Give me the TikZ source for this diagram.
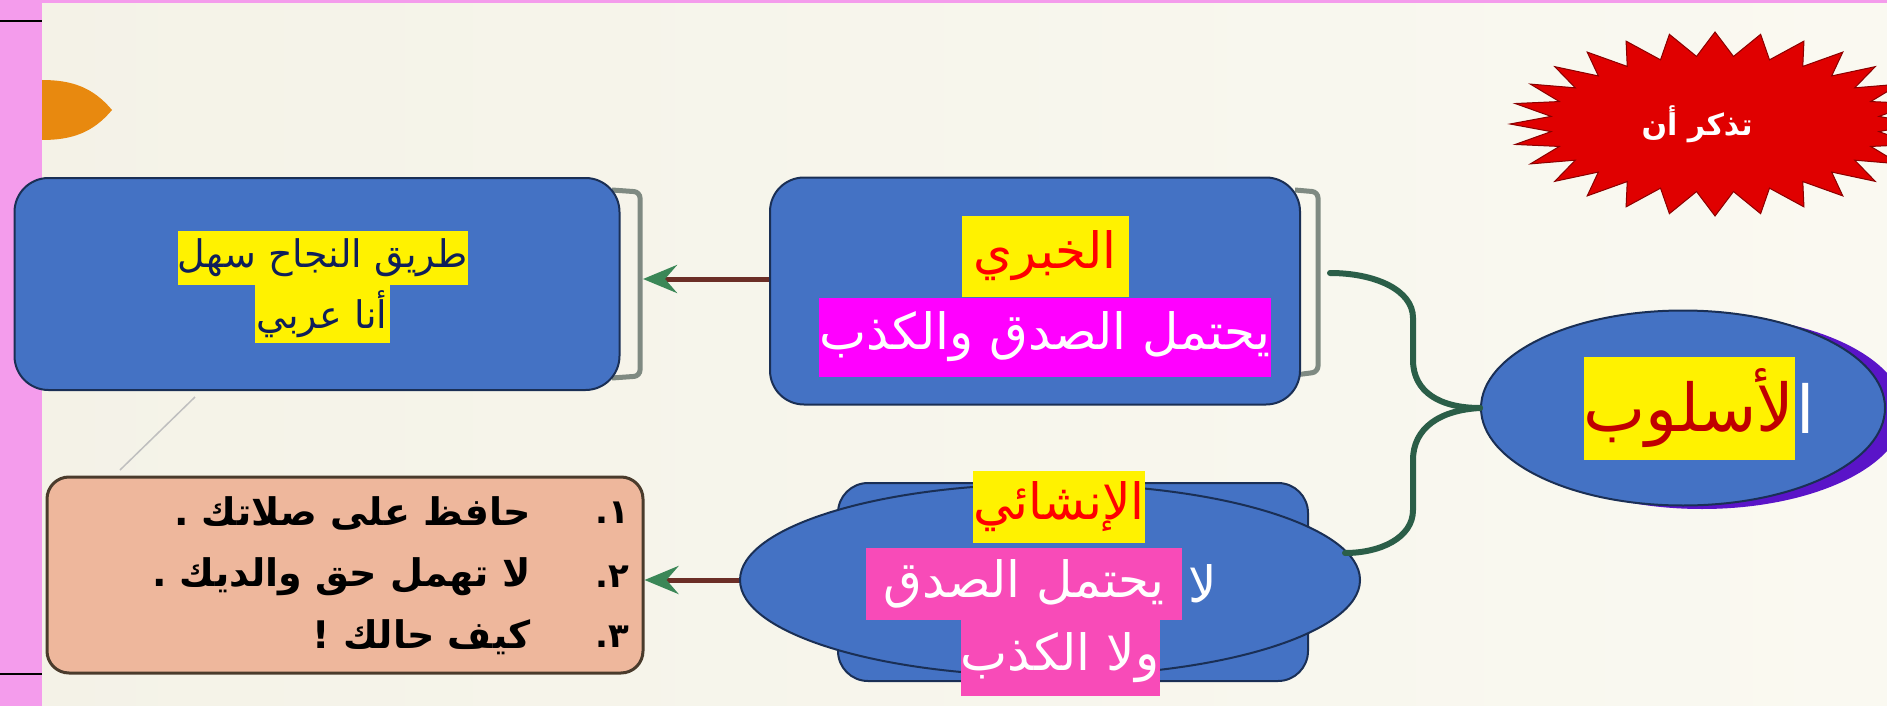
\documentclass[tikz,border=0pt]{standalone}
\usepackage{fontspec}
\usepackage{tikz}
\usetikzlibrary{shapes.geometric,arrows.meta}
\newfontfamily\arabicfont[Script=Arabic]{DejaVu Sans}
\TeXXeTstate=1
\newcommand{\artxt}[1]{\arabicfont\beginR #1\endR}
\definecolor{boxblue}{HTML}{4472C4}
\definecolor{boxline}{HTML}{1A2F55}
\definecolor{navytxt}{HTML}{0F1F5A}
\definecolor{magentahl}{HTML}{FF00FF}
\definecolor{pinkhl}{HTML}{F84BB8}
\definecolor{uslubred}{HTML}{C00000}
\definecolor{salmonfill}{HTML}{EEB79C}
\definecolor{salmonline}{HTML}{4A3B2C}
\definecolor{stripe}{HTML}{F49CEC}
\definecolor{burstred}{HTML}{E00000}
\definecolor{burstdark}{HTML}{8A0000}
\definecolor{blobor}{HTML}{E8890F}
\definecolor{bgleft}{HTML}{F4F2E7}
\definecolor{bgright}{HTML}{FAF9F1}
\definecolor{shadowpurple}{HTML}{5A14C8}
\definecolor{arrowgreen}{HTML}{3B8757}
\definecolor{connbrown}{HTML}{6B2E26}
\definecolor{bracegreen}{HTML}{2B5E48}
\definecolor{bracketgrey}{HTML}{7F8A82}

\begin{document}
\begin{tikzpicture}[x=1pt, y=-1pt]
    \tikzstyle{every node}=[inner sep=0pt]
    \tikzstyle{bluebox}=[draw=boxline, fill=boxblue, line width=2pt, rounded corners=34pt]
    \tikzstyle{blueoval}=[ellipse, draw=boxline, fill=boxblue, line width=2pt]
    \tikzstyle{hl}=[inner xsep=0pt, inner ysep=0pt]
    \tikzstyle{conn}=[draw=connbrown, line width=5pt, -{Stealth[length=34pt, width=28pt, inset=12pt, color=arrowgreen]}]
    \tikzstyle{brace}=[draw=bracegreen, line width=6pt, line cap=round]
    \tikzstyle{bracket}=[draw=bracketgrey, line width=5pt, rounded corners=6pt]
    \useasboundingbox (0, 0) rectangle (1887, 706);
    \fill[left color=bgleft, right color=bgright] (0, 0) rectangle (1887, 706);
    \fill[stripe] (0, 0) rectangle (42, 706);
    \fill[stripe] (0, 0) rectangle (1887, 3);
    \draw[line width=2pt] (0, 21) -- (42, 21);
    \draw[line width=2pt] (0, 674) -- (42, 674);
    \fill[blobor] (42, 80) to[out=0, in=130] (112, 110) to[out=230, in=0] (42, 140) -- cycle;
    \begin{scope}[shift={(1715, 124)}]
    \fill[burstred, draw=burstdark, line width=1pt] (0:205 and 92) \foreach \i in {1,...,28} {-- ({\i*360/28-360/56}:165 and 68) -- ({\i*360/28}:205 and 92)} -- cycle;
    \end{scope}
    \draw (1697, 124) node[text=white, font=\fontsize{30}{34}\selectfont\bfseries] (tip) {\artxt{تذكر أن}};
    \draw[black!25, line width=1.5pt] (120, 470) -- (195, 397);
    \draw[bracket] (612, 190) -- (640, 192) -- (640, 376) -- (612, 378);
    \draw[bracket] (1295, 190) -- (1318, 192) -- (1318, 372) -- (1295, 375);

    \draw (317, 284) node[bluebox, minimum width=605, minimum height=212] (tarik) {};
    \draw (1035, 291) node[bluebox, minimum width=530, minimum height=227] (khabari) {};
    \draw (1073, 582) node[bluebox, rounded corners=30pt, minimum width=470, minimum height=198] (inshabox) {};
    \draw (1050, 580) node[blueoval, minimum width=620, minimum height=192] (insha) {};
    \draw (345, 575) node[draw=salmonline, fill=salmonfill, line width=3pt, rounded corners=22pt, minimum width=596, minimum height=196] (amthila) {};
    \fill[shadowpurple] (1702, 412) ellipse (202 and 97);
    \draw (1683, 408) node[blueoval, minimum width=404, minimum height=195] (uslub) {};

    \coordinate (khabari-end) at (1330, 273);
    \coordinate (insha-end) at (1345, 553);
    \coordinate (tarik-br) at (643, 279);
    \draw[brace] (uslub.west) .. controls (1440, 408) and (1413, 392) .. (1413, 360) -- (1413, 318) .. controls (1413, 290) and (1375, 273) .. (khabari-end);
    \draw[brace] (uslub.west) .. controls (1440, 410) and (1413, 428) .. (1413, 460) -- (1413, 510) .. controls (1413, 538) and (1380, 553) .. (insha-end);
    \draw[conn] ([yshift=12pt]khabari.west) -- (tarik-br);
    \draw[conn] (insha.west) -- (insha.west -| amthila.east);

    \draw (323, 258) node[hl, fill=yellow, text=navytxt, minimum width=283, minimum height=54, font=\fontsize{38}{42}\selectfont] (tarik1) {\artxt{طريق النجاح سهل}};
    \draw (322, 314) node[hl, fill=yellow, text=navytxt, minimum width=135, minimum height=58, font=\fontsize{38}{42}\selectfont] (tarik2) {\artxt{أنا عربي}};

    \draw (1045, 256) node[hl, fill=yellow, text=red, minimum width=167, minimum height=81, font=\fontsize{50}{56}\selectfont] (khabari1) {\artxt{الخبري}};
    \draw (1045, 337) node[hl, fill=magentahl, text=white, minimum width=445, minimum height=79, font=\fontsize{50}{56}\selectfont] (khabari2) {\artxt{يحتمل الصدق والكذب}};

    \draw (1059, 507) node[hl, fill=yellow, text=red, minimum width=166, minimum height=72, font=\fontsize{50}{56}\selectfont] (insha1) {\artxt{الإنشائي}};
    \draw (1024, 584) node[hl, fill=pinkhl, text=white, minimum width=316, minimum height=72, font=\fontsize{50}{56}\selectfont] (insha2) {\artxt{يحتمل الصدق}};
    \draw (1203, 584) node[text=white, font=\fontsize{50}{56}\selectfont] (insha2la) {\artxt{لا}};
    \draw (1060, 658) node[hl, fill=pinkhl, text=white, minimum width=199, minimum height=76, font=\fontsize{50}{56}\selectfont] (insha3) {\artxt{ولا الكذب}};

    \draw (1689, 408) node[hl, fill=yellow, text=uslubred, minimum width=208, minimum height=103, font=\fontsize{66}{74}\selectfont] (uslub1) {\artxt{لأسلوب}};
    \draw (1806, 408) node[text=white, font=\fontsize{66}{74}\selectfont] (uslub2) {\artxt{ا}};

    \draw (531, 513) node[anchor=east, font=\fontsize{38}{42}\selectfont\bfseries] (mithal1) {\artxt{حافظ على صلاتك .}};
    \draw (531, 577) node[anchor=east, font=\fontsize{38}{42}\selectfont\bfseries] (mithal2) {\artxt{لا تهمل حق والديك .}};
    \draw (531, 637) node[anchor=east, font=\fontsize{38}{42}\selectfont\bfseries] (mithal3) {\artxt{كيف حالك !}};
    \draw (612, 513) node[font=\fontsize{34}{38}\selectfont\bfseries] (raqm1) {\artxt{١.}};
    \draw (612, 577) node[font=\fontsize{34}{38}\selectfont\bfseries] (raqm2) {\artxt{٢.}};
    \draw (612, 637) node[font=\fontsize{34}{38}\selectfont\bfseries] (raqm3) {\artxt{٣.}};
\end{tikzpicture}
\end{document}
